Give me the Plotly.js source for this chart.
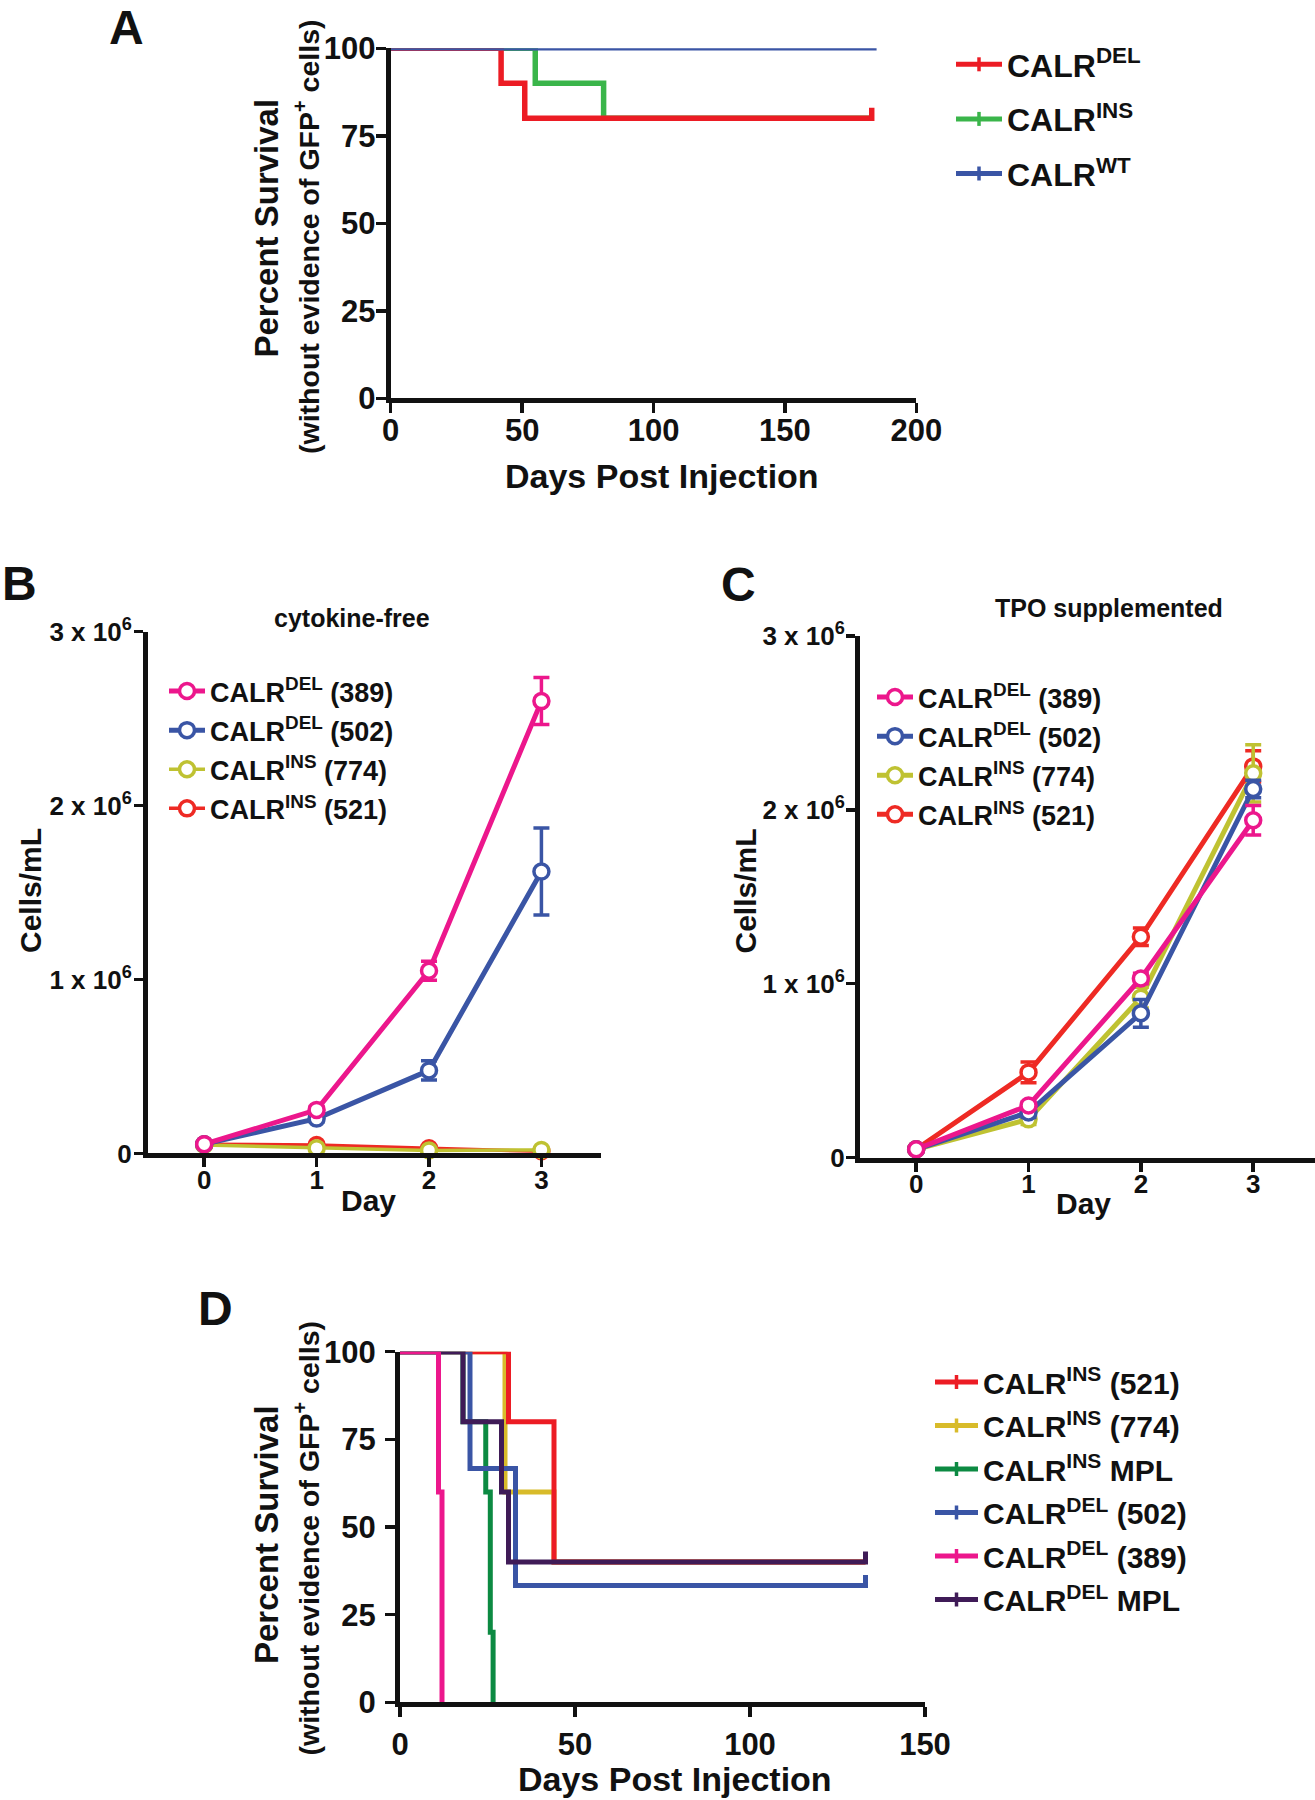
<!DOCTYPE html>
<html>
<head>
<meta charset="utf-8">
<script src="https://cdn.plot.ly/plotly-3.0.1.min.js"></script>
<style>
  html, body { margin: 0; padding: 0; background: #fff; }
  #fig { width: 1315px; height: 1800px; }
</style>
</head>
<body>
<div id="fig"></div>
<script>
// panel A - survival after injection
const aDelDays = [0, 42, 51, 183];
const aDelPct = [100, 90, 80, 80];
const aInsDays = [0, 55, 81, 183];
const aInsPct = [100, 90, 80, 80];
const aWtDays = [0, 184];
const aWtPct = [100, 100];

// panels B / C - cell counts per day
const days = [0, 1, 2, 3];
const bDel389 = [0.053e6, 0.25e6, 1.05e6, 2.60e6];
const bDel389Err = [0, 0.02e6, 0.055e6, 0.135e6];
const bDel502 = [0.053e6, 0.20e6, 0.477e6, 1.62e6];
const bDel502Err = [0, 0.02e6, 0.055e6, 0.25e6];
const bIns774 = [0.048e6, 0.03e6, 0.017e6, 0.02e6];
const bIns521 = [0.053e6, 0.048e6, 0.03e6, 0.012e6];

const cDel389 = [0.048e6, 0.30e6, 1.03e6, 1.94e6];
const cDel389Err = [0, 0.02e6, 0.03e6, 0.085e6];
const cDel502 = [0.048e6, 0.26e6, 0.83e6, 2.12e6];
const cDel502Err = [0, 0.03e6, 0.08e6, 0.05e6];
const cIns774 = [0.048e6, 0.22e6, 0.92e6, 2.21e6];
const cIns774Err = [0, 0.03e6, 0.06e6, 0.165e6];
const cIns521 = [0.048e6, 0.49e6, 1.27e6, 2.25e6];
const cIns521Err = [0, 0.06e6, 0.05e6, 0.09e6];

// panel D - survival, second cohort
const dIns521Days = [0, 31, 44, 133];
const dIns521Pct = [100, 80, 40, 40];
const dIns774Days = [0, 30, 44, 133];
const dIns774Pct = [100, 60, 40, 40];
const dInsMplDays = [0, 18, 24.5, 25.8, 26.6];
const dInsMplPct = [100, 80, 60, 20, 0];
const dDel502Days = [0, 20, 33, 133];
const dDel502Pct = [100, 66.7, 33.3, 33.3];
const dDel389Days = [0, 11, 12];
const dDel389Pct = [100, 60, 0];
const dDelMplDays = [0, 18, 29, 31, 133];
const dDelMplPct = [100, 80, 60, 40, 40];

const legA = ['CALR<sup>DEL</sup>', 'CALR<sup>INS</sup>', 'CALR<sup>WT</sup>'];
const legBC = ['CALR<sup>DEL</sup> (389)', 'CALR<sup>DEL</sup> (502)', 'CALR<sup>INS</sup> (774)', 'CALR<sup>INS</sup> (521)'];
const legD = ['CALR<sup>INS</sup> (521)', 'CALR<sup>INS</sup> (774)', 'CALR<sup>INS</sup> MPL',
              'CALR<sup>DEL</sup> (502)', 'CALR<sup>DEL</sup> (389)', 'CALR<sup>DEL</sup> MPL'];
const bcTicks = ['0', '1 x 10<sup>6</sup>', '2 x 10<sup>6</sup>', '3 x 10<sup>6</sup>'];

const RED = '#ec1c24', GREEN = '#3ab54a', BLUE = '#3a55a5';
const PINK = '#ec178c', OLIVE = '#bfc232', RED2 = '#ee2a24';
const GOLD = '#d8bb2a', DGREEN = '#0c8a42', PURPLE = '#3f1b57';

const W = 1315, H = 1800;
const SANS = 'Liberation Sans, Arial, sans-serif';

// survival step line, with a small censor tick on the last point when someone survived
function step(xs, ys, color, width, axes, tick) {
  const x = xs.slice(), y = ys.slice();
  if (tick && y[y.length - 1] > 0) { x.push(x[x.length - 1]); y.push(y[y.length - 1] + tick); }
  return {x, y, mode: 'lines', line: {shape: 'hv', color, width}, xaxis: axes[0], yaxis: axes[1],
          showlegend: false, cliponaxis: false, hoverinfo: 'skip'};
}
function legendOnly(name, color, legend, group) {
  return {x: [null], y: [null], name, mode: 'lines+markers', legend, legendgroup: group,
          line: {color, width: 5}, marker: {symbol: 'line-ns', size: 10, line: {color, width: 3.5}}};
}
function growth(ys, err, color, width, name, axes, legend, rank) {
  const t = {x: days, y: ys, name, mode: 'lines+markers', xaxis: axes[0], yaxis: axes[1], legend,
             legendgroup: legend + rank, legendrank: rank, cliponaxis: false, line: {color, width},
             marker: {symbol: 'circle', size: 15, color: '#fff', line: {color, width: 3.5}}};
  if (err) t.error_y = {type: 'data', array: err, color, thickness: 3.5, width: 8};
  return t;
}

const traces = [
  step(aInsDays, aInsPct, GREEN, 5.5, ['x', 'y'], 0),
  step(aDelDays, aDelPct, RED, 5.5, ['x', 'y'], 3),
  step(aWtDays, aWtPct, BLUE, 4.5, ['x', 'y'], 3),
  legendOnly(legA[0], RED, 'legend', 'a1'),
  legendOnly(legA[1], GREEN, 'legend', 'a2'),
  legendOnly(legA[2], BLUE, 'legend', 'a3'),

  growth(bIns521, null, RED2, 3.5, legBC[3], ['x2', 'y2'], 'legend2', 4),
  growth(bIns774, null, OLIVE, 3.5, legBC[2], ['x2', 'y2'], 'legend2', 3),
  growth(bDel502, bDel502Err, BLUE, 5, legBC[1], ['x2', 'y2'], 'legend2', 2),
  growth(bDel389, bDel389Err, PINK, 5, legBC[0], ['x2', 'y2'], 'legend2', 1),

  growth(cIns521, cIns521Err, RED2, 5, legBC[3], ['x3', 'y3'], 'legend3', 4),
  growth(cIns774, cIns774Err, OLIVE, 5, legBC[2], ['x3', 'y3'], 'legend3', 3),
  growth(cDel502, cDel502Err, BLUE, 5, legBC[1], ['x3', 'y3'], 'legend3', 2),
  growth(cDel389, cDel389Err, PINK, 5, legBC[0], ['x3', 'y3'], 'legend3', 1),

  step(dIns774Days, dIns774Pct, GOLD, 5, ['x4', 'y4'], 0),
  step(dIns521Days, dIns521Pct, RED, 5, ['x4', 'y4'], 0),
  step(dInsMplDays, dInsMplPct, DGREEN, 5, ['x4', 'y4'], 0),
  step(dDel502Days, dDel502Pct, BLUE, 5, ['x4', 'y4'], 3),
  step(dDelMplDays, dDelMplPct, PURPLE, 5, ['x4', 'y4'], 3),
  step(dDel389Days, dDel389Pct, PINK, 5, ['x4', 'y4'], 0),
  legendOnly(legD[0], RED, 'legend4', 'd1'),
  legendOnly(legD[1], GOLD, 'legend4', 'd2'),
  legendOnly(legD[2], DGREEN, 'legend4', 'd3'),
  legendOnly(legD[3], BLUE, 'legend4', 'd4'),
  legendOnly(legD[4], PINK, 'legend4', 'd5'),
  legendOnly(legD[5], PURPLE, 'legend4', 'd6'),
];

const axBase = {showline: true, linewidth: 5, linecolor: '#111', ticks: 'outside', ticklen: 10,
                tickwidth: 3.5, tickcolor: '#111', showgrid: false, zeroline: false, fixedrange: true};
const survTick = {family: SANS, size: 31, color: '#111', weight: 'bold'};
const bcTick = {family: SANS, size: 26, color: '#111', weight: 'bold'};

function ann(text, px, py, size, opts) {
  return Object.assign({text, xref: 'paper', yref: 'paper', x: px / W, y: 1 - py / H,
    xanchor: 'center', yanchor: 'middle', showarrow: false,
    font: {family: SANS, size, color: '#111', weight: 'bold'}}, opts || {});
}
function legendBox(px, py, size, opts) {
  return Object.assign({x: px / W, y: 1 - py / H, xanchor: 'left', yanchor: 'top',
    bgcolor: 'rgba(0,0,0,0)', borderwidth: 0,
    font: {family: SANS, size, color: '#111', weight: 'bold'}}, opts || {});
}

const layout = {
  width: W, height: H, margin: {l: 0, r: 0, t: 0, b: 0},
  paper_bgcolor: '#fff', plot_bgcolor: 'rgba(0,0,0,0)', hovermode: false,
  xaxis: Object.assign({}, axBase, {domain: [390.7 / W, 916.4 / W], range: [0, 200], anchor: 'y',
    tickvals: [0, 50, 100, 150, 200], tickfont: survTick, ticklabelstandoff: -10}),
  yaxis: Object.assign({}, axBase, {domain: [1 - 398.3 / H, 1 - 48.3 / H], range: [0, 100], anchor: 'x',
    tickvals: [0, 25, 50, 75, 100], tickfont: survTick, ticklabelstandoff: -6}),
  xaxis2: Object.assign({}, axBase, {domain: [148 / W, 601 / W], range: [-0.5, 3.53], anchor: 'y2',
    tickvals: days, tickfont: bcTick, ticklen: 9, ticklabelstandoff: -10}),
  yaxis2: Object.assign({}, axBase, {domain: [1 - 1153.4 / H, 1 - 631.5 / H], range: [0, 3e6], anchor: 'x2',
    tickvals: [0, 1e6, 2e6, 3e6], ticktext: bcTicks, tickfont: bcTick, ticklen: 9, ticklabelstandoff: -3}),
  xaxis3: Object.assign({}, axBase, {domain: [860 / W, 1], range: [-0.5, 3.55], anchor: 'y3',
    tickvals: days, tickfont: bcTick, ticklen: 9, ticklabelstandoff: -10}),
  yaxis3: Object.assign({}, axBase, {domain: [1 - 1157.6 / H, 1 - 636 / H], range: [0, 3e6], anchor: 'x3',
    tickvals: [0, 1e6, 2e6, 3e6], ticktext: bcTicks, tickfont: bcTick, ticklen: 9, ticklabelstandoff: -4}),
  xaxis4: Object.assign({}, axBase, {domain: [400 / W, 925 / W], range: [0, 150], anchor: 'y4',
    tickvals: [0, 50, 100, 150], tickfont: survTick, ticklabelstandoff: 0}),
  yaxis4: Object.assign({}, axBase, {domain: [1 - 1702.3 / H, 1 - 1351.7 / H], range: [0, 100], anchor: 'x4',
    tickvals: [0, 25, 50, 75, 100], tickfont: survTick, ticklabelstandoff: 3}),

  legend: legendBox(951, 37, 32, {itemwidth: 46, traceorder: 'grouped', tracegroupgap: 10}),
  legend2: legendBox(164, 667, 27, {itemwidth: 36, traceorder: 'grouped', tracegroupgap: 1}),
  legend3: legendBox(872, 673, 27, {itemwidth: 36, traceorder: 'grouped', tracegroupgap: 1}),
  legend4: legendBox(930, 1356, 30, {itemwidth: 43, traceorder: 'grouped', tracegroupgap: 1.5}),

  annotations: [
    ann('A', 126, 27, 48),
    ann('B', 19, 583, 48),
    ann('C', 738, 584, 48),
    ann('D', 215, 1308, 48),

    ann('Percent Survival', 265.5, 228, 33, {textangle: -90}),
    ann('(without evidence of GFP<sup>+</sup> cells)', 307, 237, 28.5, {textangle: -90}),
    ann('Days Post Injection', 661.6, 476, 34),

    ann('cytokine-free', 352, 618, 25),
    ann('Cells/mL', 30, 891, 30, {textangle: -90}),
    ann('Day', 368.6, 1200, 30),

    ann('TPO supplemented', 1109, 608, 25),
    ann('Cells/mL', 744.5, 891, 30, {textangle: -90}),
    ann('Day', 1083, 1203, 30),

    ann('Percent Survival', 266, 1535, 33, {textangle: -90}),
    ann('(without evidence of GFP<sup>+</sup> cells)', 307.5, 1539, 28.5, {textangle: -90}),
    ann('Days Post Injection', 675, 1779, 34),
  ],
};

Plotly.newPlot('fig', traces, layout, {staticPlot: true, displayModeBar: false});
</script>
</body>
</html>
